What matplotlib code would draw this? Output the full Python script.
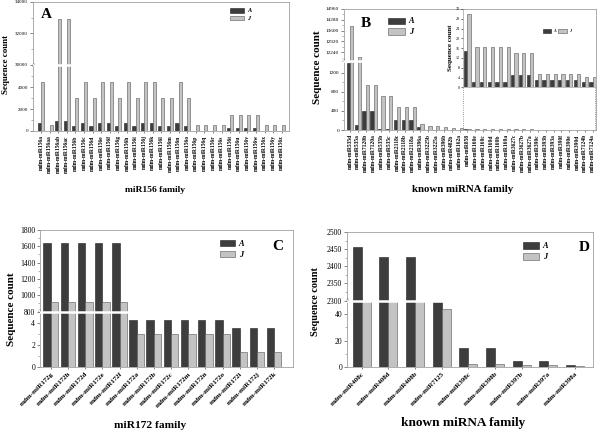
import numpy as np
import matplotlib
matplotlib.use('Agg')
import matplotlib.pyplot as plt
from matplotlib.transforms import blended_transform_factory
from matplotlib.patches import Patch

plt.rcParams['font.family'] = ['Liberation Serif', 'DejaVu Serif']

# ---------------- data ----------------
A_labels = ['mdm-miR156a', 'mdm-miR156aa', 'mdm-miR156ab', 'mdm-miR156ac', 'mdm-miR156b',
            'mdm-miR156c', 'mdm-miR156d', 'mdm-miR156e', 'mdm-miR156f', 'mdm-miR156g',
            'mdm-miR156h', 'mdm-miR156i', 'mdm-miR156j', 'mdm-miR156k', 'mdm-miR156l',
            'mdm-miR156m', 'mdm-miR156n', 'mdm-miR156o', 'mdm-miR156p', 'mdm-miR156q',
            'mdm-miR156r', 'mdm-miR156s', 'mdm-miR156t', 'mdm-miR156u', 'mdm-miR156v',
            'mdm-miR156w', 'mdm-miR156x', 'mdm-miR156y', 'mdm-miR156z']
A_A = [760, 0, 900, 900, 450, 760, 450, 760, 760, 450, 760, 450, 760, 760, 450,
       450, 760, 450, 0, 0, 0, 0, 300, 300, 300, 300, 0, 0, 0]
A_J = [4500, 550, 32900, 32900, 3000, 4500, 3000, 4500, 4500, 3000, 4500, 3000, 4500, 4500, 3000,
       3000, 4500, 3000, 550, 550, 550, 550, 1500, 1500, 1500, 1500, 550, 550, 550]
A_ticks = [0, 2000, 4000, 30000, 32000, 34000]

B_labels = ['mdm-miR535d', 'mdm-miR535a', 'mdm-miR7120b', 'mdm-miR7120a', 'mdm-miR535b',
            'mdm-miR535c', 'mdm-miR2118c', 'mdm-miR2118b', 'mdm-miR2118a', 'mdm-miR396a',
            'mdm-miR3225b', 'mdm-miR3225a', 'mdm-miR396b', 'mdm-miR482b', 'mdm-miR162a',
            'mdm-miR858', 'mdm-miR160e', 'mdm-miR160c', 'mdm-miR160d', 'mdm-miR160b',
            'mdm-miR160a', 'mdm-miR3627c', 'mdm-miR3627b', 'mdm-miR3627a', 'mdm-miR390c',
            'mdm-miR393b', 'mdm-miR393a', 'mdm-miR390f', 'mdm-miR390e', 'mdm-miR390d',
            'mdm-miR7124b', 'mdm-miR7124a']
B_A = [1390, 105, 403, 403, 12, 12, 209, 209, 209, 70, 3, 3, 3, 2, 2,
       15, 2, 2, 2, 2, 2, 5, 5, 5, 3, 3, 3, 3, 3, 3, 2, 2]
B_J = [13900, 11900, 940, 940, 710, 710, 487, 487, 487, 125, 85, 85, 55, 40, 35,
       30, 16.5, 16.5, 16.5, 16.5, 16.5, 14, 14, 14, 5.5, 5.5, 5.5, 5.3, 5.3, 5.3, 4.3, 4.3]
B_ticks = [0, 400, 800, 1200, 12240, 12920, 13600, 14280, 14960]
B_inset_start = 15
B_inset_ticks = [0, 4, 8, 12, 16, 20, 24, 28, 32]

C_labels = ['mdm-miR172g', 'mdm-miR172h', 'mdm-miR172d', 'mdm-miR172e', 'mdm-miR172f',
            'mdm-miR172a', 'mdm-miR172b', 'mdm-miR172c', 'mdm-miR172m', 'mdm-miR172n',
            'mdm-miR172o', 'mdm-miR172i', 'mdm-miR172j', 'mdm-miR172k']
C_A = [1640, 1640, 1640, 1640, 1640, 4.26, 4.26, 4.26, 4.26, 4.26, 4.26, 3.56, 3.56, 3.56]
C_J = [920, 920, 920, 920, 920, 3.04, 3.04, 3.04, 3.04, 3.04, 3.04, 1.38, 1.38, 1.38]
C_ticks = [0, 2, 4, 800, 1000, 1200, 1400, 1600, 1800]

D_labels = ['mdm-miR408c', 'mdm-miR408d', 'mdm-miR408b', 'mdm-miR7125', 'mdm-miR398c',
            'mdm-miR398b', 'mdm-miR397b', 'mdm-miR397a', 'mdm-miR398a']
D_A = [2455, 2427, 2427, 49, 14.1, 14.1, 4.5, 4.5, 1.3]
D_J = [60, 60, 60, 44.3, 2.0, 2.0, 1.3, 1.3, 0.5]
D_ticks = [0, 20, 40, 2300, 2350, 2400, 2450, 2500]

DARK = '#3d3d3d'
LIGHT = '#c3c3c3'
SPINE = '#a0a0a0'


def broken(lo, hi, top, p, eps=0.004):
    def fwd(v):
        v = np.asarray(v, float)
        low = v / lo * p
        mid = p + (v - lo) / (hi - lo) * eps
        up = p + eps + (v - hi) / (top - hi) * (1 - p - eps)
        return np.where(v <= lo, low, np.where(v >= hi, up, mid))

    def inv(y):
        y = np.asarray(y, float)
        low = y / p * lo
        mid = lo + (y - p) / eps * (hi - lo)
        up = hi + (y - p - eps) / (1 - p - eps) * (top - hi)
        return np.where(y <= p, low, np.where(y >= p + eps, up, mid))
    return fwd, inv


def panel(fig, rect, labels, va, vj, width, xlim, lo, hi, top, p, ticks,
          xrot, xfs, yfs, minor):
    ax = fig.add_axes(rect)
    x = np.arange(len(labels))
    ax.set_yscale('function', functions=broken(lo, hi, top, p))
    ax.bar(x - width / 2, va, width, color=DARK, edgecolor='#202020', lw=0.4, zorder=2)
    ax.bar(x + width / 2, vj, width, color=LIGHT, edgecolor='#555555', lw=0.4, zorder=2)
    ax.set_ylim(0, top)
    ax.set_xlim(*xlim)
    ax.set_yticks(ticks)
    ax.set_yticklabels([str(t) for t in ticks], fontsize=yfs)
    ax.set_yticks(minor, minor=True)
    ax.set_xticks(x)
    if xrot == 90:
        ax.set_xticklabels(labels, rotation=90, fontsize=xfs, fontweight='bold')
    else:
        ax.set_xticklabels(labels, rotation=xrot, fontsize=xfs, fontweight='bold',
                           ha='right', rotation_mode='anchor')
    for s in ax.spines.values():
        s.set_color(SPINE)
        s.set_linewidth(0.6)
    ax.tick_params(axis='both', which='major', length=2, width=0.5, color='#555555', pad=1.5)
    ax.tick_params(axis='y', which='minor', length=1.2, width=0.4, color='#777777')
    ax.tick_params(axis='x', which='major', length=1.5)
    # break marker
    mid = (lo + hi) / 2
    ax.axhline(mid, color='white', lw=1.8, zorder=5)
    bt = blended_transform_factory(ax.transAxes, ax.transData)
    ax.text(0.0, mid, '//', transform=bt, fontsize=4, color='#666666', ha='center',
            va='center', zorder=6, clip_on=False)
    return ax


def legend(ax, x, y, fs, hl, hh, ncol=1):
    h = [Patch(facecolor=DARK, edgecolor='#202020', lw=0.4),
         Patch(facecolor=LIGHT, edgecolor='#555555', lw=0.4)]
    ax.legend(h, ['A', 'J'], loc='upper left', bbox_to_anchor=(x, y), frameon=False,
              prop={'size': fs, 'style': 'italic', 'weight': 'bold'},
              handlelength=hl, handleheight=hh, labelspacing=0.35, handletextpad=0.5,
              borderpad=0, borderaxespad=0, ncol=ncol, columnspacing=0.6)


fig = plt.figure(figsize=(6, 4.3), dpi=100)
W, H = 600.0, 430.0


def R(l, t, r, b):
    return [l / W, 1 - b / H, (r - l) / W, (b - t) / H]


# ---------------- Panel A ----------------
axA = panel(fig, R(33, 2, 289, 131), A_labels, A_A, A_J, 0.36, (-0.93, 28.85),
            6000, 30000, 34000, 0.509, A_ticks, 90, 4.0, 3.6,
            [1000, 3000, 5000, 31000, 33000])
legend(axA, 0.77, 0.955, 4.5, 2.2, 0.8)
axA.text(0.03, 0.95, 'A', transform=axA.transAxes, fontsize=11, fontweight='bold', va='top')
fig.text(155 / W, 1 - 190 / H, 'miR156 family', ha='center', va='center', fontsize=6.8,
         fontweight='bold')
fig.text(6 / W, 1 - 64 / H, 'Sequence count', ha='center', va='center', rotation=90,
         fontsize=6.5, fontweight='bold')

# ---------------- Panel B ----------------
axB = panel(fig, R(344, 9, 596, 130), B_labels, B_A, B_J, 0.42, (-0.77, 31.43),
            1445, 11720, 14960, 0.572, B_ticks, 90, 4.0, 3.8,
            [200, 600, 1000, 12580, 13260, 13940, 14620])
legend(axB, 0.175, 0.93, 6, 2.0, 0.75)
axB.text(0.065, 0.93, 'B', transform=axB.transAxes, fontsize=11, fontweight='bold', va='top')
fig.text(463 / W, 1 - 190 / H, 'known miRNA family', ha='center', va='center', fontsize=7.8,
         fontweight='bold')
fig.text(318 / W, 1 - 67 / H, 'Sequence count', ha='center', va='center', rotation=90,
         fontsize=8, fontweight='bold')

# inset
x0 = 14.43
blend = blended_transform_factory(axB.transData, axB.transAxes)
ins = axB.inset_axes([x0, 0.353, 31.43 - x0, 0.647], transform=blend)
xi = np.arange(B_inset_start, len(B_labels))
ins.bar(xi - 0.21, B_A[B_inset_start:], 0.42, color=DARK, edgecolor='#202020', lw=0.4)
ins.bar(xi + 0.21, B_J[B_inset_start:], 0.42, color=LIGHT, edgecolor='#555555', lw=0.4)
ins.set_xlim(x0, 31.43)
ins.set_ylim(0, 32)
ins.set_yticks(B_inset_ticks)
ins.set_yticklabels([str(t) for t in B_inset_ticks], fontsize=3)
ins.set_xticks([])
ins.patch.set_alpha(0)
for s in ['top', 'right']:
    ins.spines[s].set_visible(False)
for s in ['left', 'bottom']:
    ins.spines[s].set_color(SPINE)
    ins.spines[s].set_linewidth(0.5)
ins.tick_params(axis='y', length=1.5, width=0.4, pad=1)
ins.set_ylabel('Sequence count', fontsize=5, fontweight='bold', labelpad=2)
legend(ins, 0.6, 0.74, 3, 2.0, 0.8, ncol=2)
for xx in (x0, 31.35):
    axB.plot([xx, xx], [0, 0.353], transform=blend, ls=':', lw=0.6, color='#777777',
             clip_on=False)

# ---------------- Panel C ----------------
axC = panel(fig, R(40, 230, 293, 367), C_labels, C_A, C_J, 0.43, (-0.63, 14.1),
            5, 800, 1800, 0.4, C_ticks, 45, 5.0, 5.5,
            [1, 3, 900, 1100, 1300, 1500, 1700])
legend(axC, 0.71, 0.925, 6, 1.8, 0.75)
axC.text(0.96, 0.93, 'C', transform=axC.transAxes, fontsize=11, fontweight='bold',
         va='top', ha='right')
fig.text(150 / W, 1 - 425 / H, 'miR172 family', ha='center', va='center', fontsize=8.2,
         fontweight='bold')
fig.text(12 / W, 1 - 309 / H, 'Sequence count', ha='center', va='center', rotation=90,
         fontsize=8, fontweight='bold')

# ---------------- Panel D ----------------
axD = panel(fig, R(347, 232, 593, 367), D_labels, D_A, D_J, 0.34, (-0.55, 8.68),
            50, 2300, 2500, 0.488, D_ticks, 45, 5.0, 5.5,
            [10, 30, 2325, 2375, 2425, 2475])
legend(axD, 0.715, 0.925, 6, 1.9, 0.8)
axD.text(0.985, 0.93, 'D', transform=axD.transAxes, fontsize=11, fontweight='bold',
         va='top', ha='right')
fig.text(463 / W, 1 - 423 / H, 'known miRNA family', ha='center', va='center', fontsize=9.5,
         fontweight='bold')
fig.text(316 / W, 1 - 302 / H, 'Sequence count', ha='center', va='center', rotation=90,
         fontsize=7.5, fontweight='bold')

fig.savefig('out.png', dpi=100)
